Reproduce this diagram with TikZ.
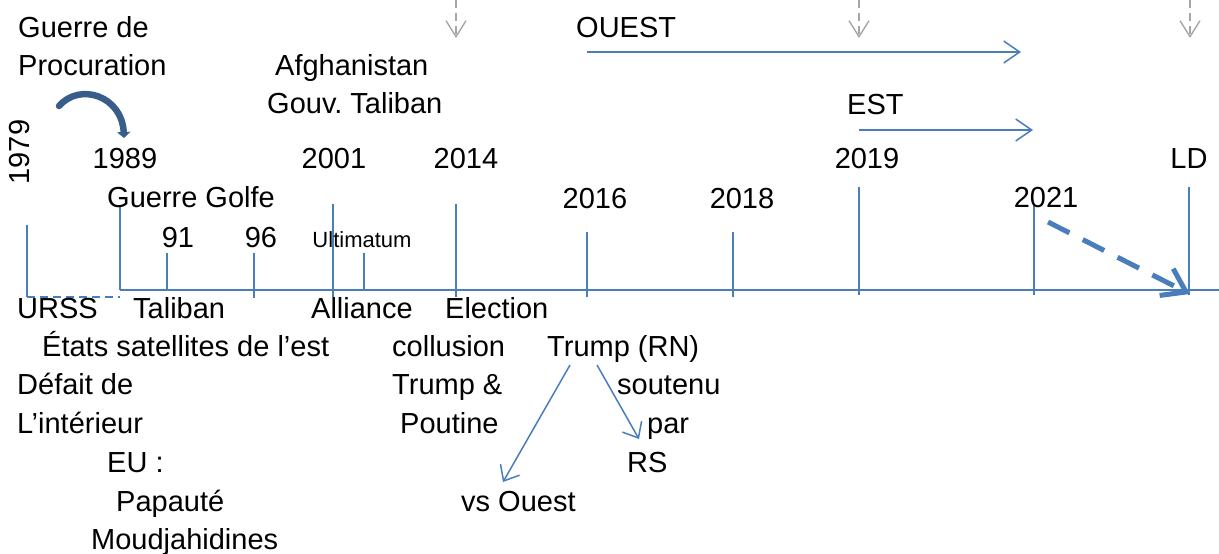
\documentclass[tikz,border=0pt]{standalone}
\usepackage{fontspec}
\setmainfont{Liberation Sans}
\usetikzlibrary{arrows.meta}
\definecolor{lineblue}{HTML}{4A7EBB}
\definecolor{darkblue}{HTML}{385D8A}
\definecolor{arrgray}{HTML}{A6A6A6}
\tikzset{
  lbl/.style={anchor=base west, inner sep=0pt, font=\fontsize{29}{34}\selectfont},
  yr/.style={anchor=base, inner sep=0pt, font=\fontsize{29}{34}\selectfont},
  small/.style={anchor=base, inner sep=0pt, font=\fontsize{22}{26}\selectfont},
  axis/.style={lineblue, line width=1.5pt},
  tick/.style={lineblue, line width=1.5pt},
  flow/.style={lineblue, line width=1.5pt, -{Straight Barb[length=16pt,width=22pt,line width=1.5pt]}},
  graydown/.style={arrgray, line width=1.4pt, dash pattern=on 8pt off 5pt, -{Straight Barb[length=16pt,width=20pt,line width=1.4pt]}},
  thickdash/.style={lineblue, line width=5pt, dash pattern=on 24pt off 15pt, -{Straight Barb[length=22pt,width=30pt,line width=5pt]}},
  curved/.style={darkblue, line width=6.5pt, line cap=round, -{Triangle[length=6pt,width=13pt]}},
  trumparrow/.style={lineblue, line width=1.5pt, -{Straight Barb[length=13pt,width=22pt,line width=1.5pt]}},
}
\begin{document}
\begin{tikzpicture}[x=1pt,y=-1pt]
\useasboundingbox (0,0) rectangle (1219,554);
% axis
\coordinate (ax0) at (120,290);
\coordinate (ax1) at (1219,290);
\draw[axis] (ax0) -- (ax1);
\coordinate (u0) at (27,225);
\coordinate (u1) at (27,297);
\coordinate (u2) at (120,297);
\draw[axis] (u0) -- (u1);
\draw[axis, dash pattern=on 8pt off 5pt] (u1) -- (u2);
% ticks
\coordinate (t89a) at (120,205); \coordinate (t89b) at (120,290);
\draw[tick] (t89a) -- (t89b);
\coordinate (t91a) at (167,253); \coordinate (t91b) at (167,290);
\draw[tick] (t91a) -- (t91b);
\coordinate (t96a) at (254,253); \coordinate (t96b) at (254,298);
\draw[tick] (t96a) -- (t96b);
\coordinate (t01a) at (333,204); \coordinate (t01b) at (333,297);
\draw[tick] (t01a) -- (t01b);
\coordinate (tuma) at (364,253); \coordinate (tumb) at (364,290);
\draw[tick] (tuma) -- (tumb);
\coordinate (t14a) at (456,204); \coordinate (t14b) at (456,297);
\draw[tick] (t14a) -- (t14b);
\coordinate (t16a) at (587,232); \coordinate (t16b) at (587,297);
\draw[tick] (t16a) -- (t16b);
\coordinate (t18a) at (733,232); \coordinate (t18b) at (733,297);
\draw[tick] (t18a) -- (t18b);
\coordinate (t19a) at (859,187); \coordinate (t19b) at (859,295);
\draw[tick] (t19a) -- (t19b);
\coordinate (t21a) at (1034,205); \coordinate (t21b) at (1034,295);
\draw[tick] (t21a) -- (t21b);
\coordinate (tlda) at (1189,187); \coordinate (tldb) at (1189,295);
\draw[tick] (tlda) -- (tldb);
% gray arrows at top
\coordinate (g1a) at (456,0); \coordinate (g1b) at (456,38);
\coordinate (g2a) at (859,0); \coordinate (g2b) at (859,38);
\coordinate (g3a) at (1190,0); \coordinate (g3b) at (1190,38);
\draw[graydown] (g1a) -- (g1b);
\draw[graydown] (g2a) -- (g2b);
\draw[graydown] (g3a) -- (g3b);
% OUEST / EST arrows
\coordinate (oa) at (587,52); \coordinate (ob) at (1021,52);
\draw[flow] (oa) -- (ob);
\coordinate (ea) at (859,130); \coordinate (eb) at (1033,130);
\draw[flow] (ea) -- (eb);
% thick dashed arrow
\coordinate (da) at (1048,222); \coordinate (db) at (1190,294);
\draw[thickdash] (da) -- (db);
% curved arrow
\coordinate (ca) at (59,106); \coordinate (cb) at (124,138);
\draw[curved] (ca) .. controls (80,82) and (122,96) .. (cb);
% texts top
\node[lbl] (gdp1) at (18,37) {Guerre de};
\node[lbl] (gdp2) at (18,75) {Procuration};
\node[lbl] (afg1) at (275,75) {Afghanistan};
\node[lbl] (afg2) at (267,113) {Gouv.\ Taliban};
\node[lbl] (ouest) at (576,37) {OUEST};
\node[lbl] (est) at (847,114) {EST};
\node[anchor=base, inner sep=0pt, font=\fontsize{29}{34}\selectfont, rotate=90] (y79) at (30,152) {1979};
\node[yr] (y89) at (125,168) {1989};
\node[yr] (y01) at (334,168) {2001};
\node[yr] (y14) at (466,168) {2014};
\node[yr] (y19) at (867,168) {2019};
\node[yr] (yld) at (1189,168) {LD};
\node[lbl] (golfe) at (107,207) {Guerre Golfe};
\node[yr] (y16) at (595,208) {2016};
\node[yr] (y18) at (742,208) {2018};
\node[yr] (y21) at (1046,207) {2021};
\node[yr] (y91) at (178,247) {91};
\node[yr] (y96) at (261,247) {96};
\node[small] (ult) at (362,247) {Ultimatum};
% texts bottom
\node[lbl] (urss) at (17,318) {URSS};
\node[lbl] (tal) at (133,318) {Taliban};
\node[lbl] (all) at (311,318) {Alliance};
\node[lbl] (elec) at (445,318) {Election};
\node[lbl] (etats) at (42,356) {États satellites de l’est};
\node[lbl] (coll) at (392,356) {collusion};
\node[lbl] (trn) at (547,356) {Trump (RN)};
\node[lbl] (def) at (17,394) {Défait de};
\node[lbl] (tra) at (392,394) {Trump \&};
\node[lbl] (sout) at (617,394) {soutenu};
\node[lbl] (int) at (17,433) {L’intérieur};
\node[lbl] (pout) at (400,433) {Poutine};
\node[lbl] (par) at (647,433) {par};
\node[lbl] (eu) at (107,472) {EU :};
\node[lbl] (rs) at (627,472) {RS};
\node[lbl] (pap) at (116,511) {Papauté};
\node[lbl] (vso) at (461,511) {vs Ouest};
\node[lbl] (mouj) at (91,549) {Moudjahidines};
% Trump arrows
\coordinate (tr1) at (570,365); \coordinate (tr1e) at (503,482);
\coordinate (tr2) at (597,365); \coordinate (tr2e) at (639,439);
\draw[trumparrow] (tr1) -- (tr1e);
\draw[trumparrow] (tr2) -- (tr2e);
\end{tikzpicture}
\end{document}
